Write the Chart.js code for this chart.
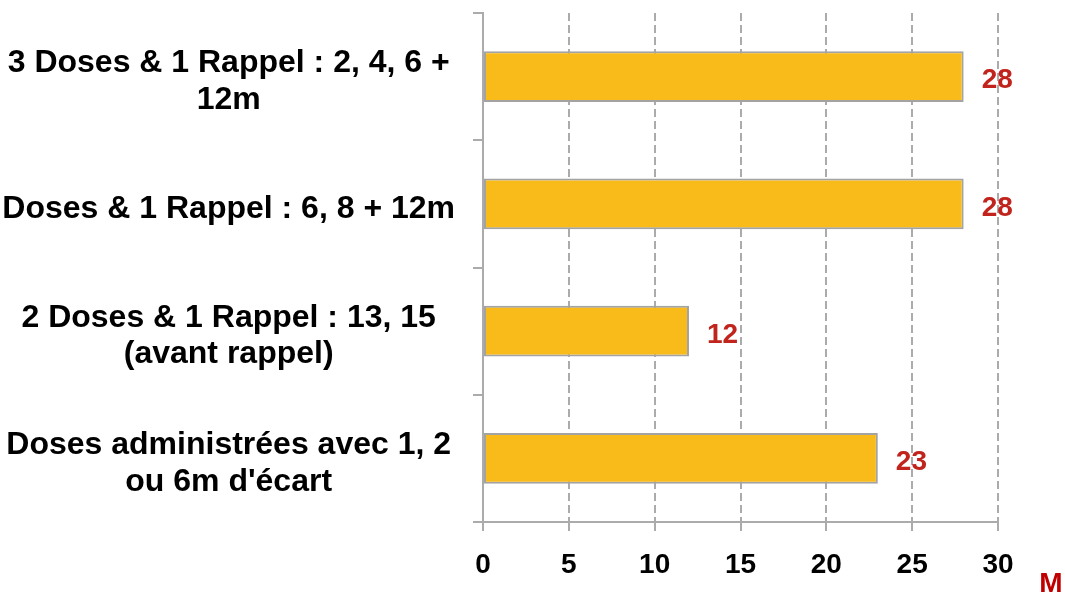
<!DOCTYPE html>
<html>
<head>
<meta charset="utf-8">
<script src="https://cdn.jsdelivr.net/npm/chart.js@4.4.1/dist/chart.umd.min.js"></script>
<style>
  html, body { margin: 0; padding: 0; background: #fff; }
  canvas { display: block; }
</style>
</head>
<body>
<canvas id="chart" width="1065" height="593"></canvas>
<script>
const categories = [
  ['3 Doses & 1 Rappel : 2, 4, 6 +', '12m'],
  'Doses & 1 Rappel : 6, 8 + 12m',
  ['2 Doses & 1 Rappel : 13, 15', '(avant rappel)'],
  ['Doses administrées avec 1, 2', "ou 6m d'écart"]
];
const values = [28, 28, 12, 23];
const xTicks = [0, 5, 10, 15, 20, 25, 30];
const unitLabel = 'M';

const FONT = '"Liberation Sans", Arial, sans-serif';
const GRID = '#ababab';

// valeurs au bout des barres + unité "M"
const valueLabels = {
  id: 'valueLabels',
  afterDatasetsDraw(chart) {
    const ctx = chart.ctx;
    const meta = chart.getDatasetMeta(0);
    ctx.save();
    ctx.font = 'bold 28px ' + FONT;
    ctx.fillStyle = '#c0241c';
    ctx.textAlign = 'left';
    ctx.textBaseline = 'middle';
    meta.data.forEach((bar, i) => {
      ctx.fillText(String(values[i]), bar.x + 18, bar.y + 4);
    });
    ctx.fillStyle = '#c00000';
    ctx.textAlign = 'center';
    ctx.textBaseline = 'alphabetic';
    ctx.fillText(unitLabel, chart.chartArea.right + 53, chart.height - 1);
    ctx.restore();
  }
};

new Chart(document.getElementById('chart').getContext('2d'), {
  type: 'bar',
  data: {
    labels: categories,
    datasets: [{
      data: values,
      backgroundColor: '#f8bb1a',
      borderColor: '#a3a3a3',
      borderWidth: 2,
      borderSkipped: false,
      categoryPercentage: 1,
      barPercentage: 0.4
    }]
  },
  options: {
    indexAxis: 'y',
    responsive: false,
    animation: false,
    layout: { padding: { top: 13, right: 67, bottom: 0, left: 0 } },
    plugins: { legend: { display: false }, tooltip: { enabled: false } },
    scales: {
      x: {
        min: 0,
        max: 30,
        afterBuildTicks: s => { s.ticks = xTicks.map(v => ({ value: v })); },
        afterFit: s => { s.height = 71; },
        grid: {
          color: GRID,
          lineWidth: 2,
          tickBorderDash: [],
          tickLength: 9,
          tickColor: GRID,
          tickWidth: 2
        },
        border: { display: true, color: GRID, width: 2, dash: [8, 4] },
        ticks: {
          color: '#000',
          padding: 17,
          font: { family: FONT, size: 28, weight: 'bold' }
        }
      },
      y: {
        afterFit: s => { s.width = 483; s.paddingTop = 0; s.paddingBottom = 0; },
        grid: {
          offset: true,
          drawOnChartArea: false,
          color: GRID,
          lineWidth: 2,
          tickLength: 10
        },
        border: { display: true, color: GRID, width: 2 },
        ticks: {
          color: '#000',
          padding: 18,
          labelOffset: 5,
          crossAlign: 'center',
          font: { family: FONT, size: 32, weight: 'bold', lineHeight: 1.15 }
        }
      }
    }
  },
  plugins: [valueLabels]
});
</script>
</body>
</html>
